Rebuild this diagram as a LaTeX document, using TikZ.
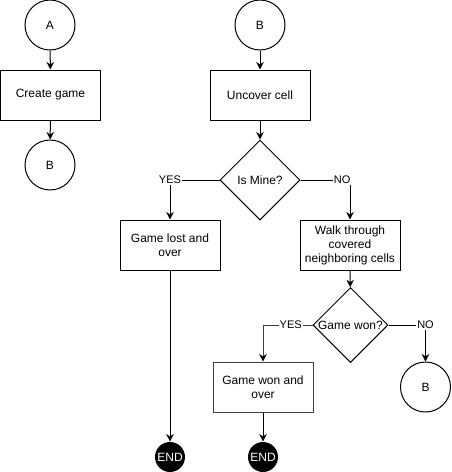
\documentclass[tikz,border=0pt]{standalone}
\usepackage{fontspec}
\setmainfont{Liberation Sans}
\usetikzlibrary{shapes.geometric,arrows.meta}

\tikzset{
  box/.style={draw, minimum width=100pt, minimum height=50pt, align=center, inner sep=2pt},
  connector/.style={circle, draw, minimum size=50pt, inner sep=0pt},
  decision/.style={diamond, draw, minimum width=#1, minimum height=#1, inner sep=0pt},
  endpoint/.style={circle, fill=black, text=white, minimum size=30pt, inner sep=0pt},
  flow/.style={-{Stealth[length=7.5pt,width=7.5pt,inset=2.5pt,color=black]}},
  answer/.style={fill=white, inner sep=1pt, font=\fontsize{11}{13}\selectfont},
}

\begin{document}
\begin{tikzpicture}[x=1pt, y=-1pt, line width=1pt, font=\fontsize{12}{14}\selectfont]
            \useasboundingbox (0,0) rectangle (452,472);
            % left column
            \node[connector] (a) at (50,25) {A};
            \node[box] (create) at (50.5,95) {Create game};
            \node[connector] (bleft) at (50,165) {B};
            \draw[flow] (a) -- (create);
            \draw[flow] (create) -- (bleft);
            % right column
            \node[connector] (bright) at (260,25) {B};
            \node[box] (uncover) at (260,95) {Uncover cell};
            \node[decision=80pt, label=center:{Is Mine?}] (mine) at (260,180) {};
            \node[box] (lost) at (170,245) {Game lost and\\over};
            \node[box] (walk) at (350,245) {Walk through\\covered\\neighboring cells};
            \node[decision=75pt, label=center:{Game won?}] (won) at (350.5,325) {};
            \node[box, draw=black!75] (wonover) at (263,387) {Game won and\\over};
            \node[connector] (bagain) at (425.5,387) {B};
            \node[endpoint] (endlost) at (170,457) {END};
            \node[endpoint] (endwon) at (263,457) {END};
            \draw[flow] (bright) -- (uncover);
            \draw[flow] (uncover) -- (mine);
            \draw[flow] (mine.west) -| node[answer, pos=0.5] {YES} (lost.north);
            \draw[flow] (mine.east) -| node[answer, pos=0.42] {NO} (walk.north);
            \draw[flow] (walk) -- (won);
            \draw[flow, draw=black!75] (won.west) -| node[answer, pos=0.22] {YES} (wonover.north);
            \draw[flow] (won.east) -| node[answer, pos=0.5] {NO} (bagain.north);
            \draw[flow] (lost) -- (endlost);
            \draw[flow] (wonover) -- (endwon);
        \end{tikzpicture}
\end{document}
